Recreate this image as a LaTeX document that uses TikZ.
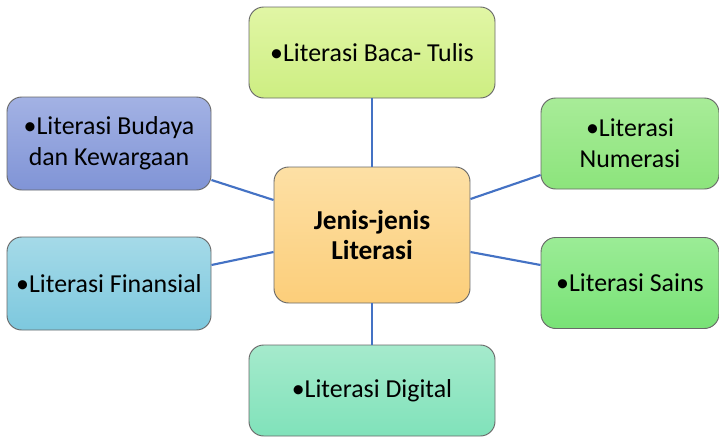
\documentclass[tikz,border=0pt]{standalone}
\usepackage{fontspec}
\setmainfont{Carlito}
\usetikzlibrary{calc}
\definecolor{linkblue}{RGB}{68,114,196}
\definecolor{rim}{RGB}{105,105,105}
\tikzstyle{topic} = [rectangle, rounded corners=11pt, minimum width=184.5pt, minimum height=68.25pt, align=center, draw=rim, line width=0.7pt, font=\fontsize{19.4}{23}\selectfont]
\tikzstyle{hub} = [topic, minimum width=147pt, minimum height=102pt, font=\fontsize{20.5}{22.5}\selectfont\bfseries]
\tikzstyle{side} = [topic, minimum width=153pt, minimum height=69.75pt]
\tikzstyle{edge} = [line width=1.6pt, draw=linkblue]

\begin{document}
\begin{tikzpicture}[x=0.75pt,y=-0.75pt]
	\useasboundingbox (0,0) rectangle (719,437);
	\node[hub, top color={rgb,255:red,253;green,224;blue,165}, bottom color={rgb,255:red,252;green,206;blue,122}] (hub) at (372,235) {Jenis-jenis\\Literasi};
	\node[topic, top color={rgb,255:red,225;green,246;blue,165}, bottom color={rgb,255:red,205;green,238;blue,130}] (bacatulis) at (372,52.5) {•Literasi Baca- Tulis};
	\node[side, top color={rgb,255:red,163;green,178;blue,228}, bottom color={rgb,255:red,128;green,148;blue,214}] (budaya) at (109,143.5) {•Literasi Budaya\\dan Kewargaan};
	\node[side, minimum width=133.5pt, minimum height=68.25pt, top color={rgb,255:red,168;green,236;blue,152}, bottom color={rgb,255:red,140;green,228;blue,124}] (numerasi) at (630,143.5) {•Literasi\\Numerasi};
	\node[side, top color={rgb,255:red,165;green,218;blue,232}, bottom color={rgb,255:red,125;green,200;blue,222}] (finansial) at (109,283.5) {•Literasi Finansial};
	\node[side, minimum width=133.5pt, minimum height=68.25pt, top color={rgb,255:red,155;green,236;blue,150}, bottom color={rgb,255:red,120;green,226;blue,118}] (sains) at (630,283) {•Literasi Sains};
	\node[topic, top color={rgb,255:red,165;green,234;blue,204}, bottom color={rgb,255:red,128;green,226;blue,186}] (digital) at (372,390.5) {•Literasi Digital};
	\draw[edge] (bacatulis) -- (hub);
	\draw[edge] (digital) -- (hub);
	\draw[edge] ($(budaya.east)+(0,36.5)$) -- ($(hub.west)+(0,-35)$);
	\draw[edge] ($(finansial.east)+(0,-18.5)$) -- ($(hub.west)+(0,17)$);
	\draw[edge] ($(numerasi.west)+(0,31.5)$) -- ($(hub.east)+(0,-36)$);
	\draw[edge] ($(sains.west)+(0,-18)$) -- ($(hub.east)+(0,17)$);
\end{tikzpicture}
\end{document}
